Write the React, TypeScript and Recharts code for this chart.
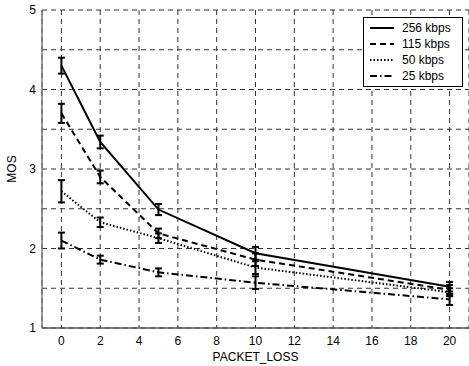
import React from 'react';
import { LineChart, Line, XAxis, YAxis, CartesianGrid, ErrorBar, Legend } from 'recharts';

const packetLoss = [0, 2, 5, 10, 20];

const mos256 = [4.3, 3.34, 2.49, 1.94, 1.52];
const err256 = [0.1, 0.08, 0.07, 0.08, 0.06];
const mos115 = [3.7, 2.9, 2.19, 1.86, 1.48];
const err115 = [0.12, 0.08, 0.06, 0.08, 0.06];
const mos50 = [2.72, 2.33, 2.13, 1.76, 1.45];
const err50 = [0.14, 0.06, 0.06, 0.08, 0.05];
const mos25 = [2.1, 1.86, 1.7, 1.57, 1.36];
const err25 = [0.1, 0.05, 0.05, 0.08, 0.07];

const xTicks = [0, 2, 4, 6, 8, 10, 12, 14, 16, 18, 20];
const yTicks = [1, 1.5, 2, 2.5, 3, 3.5, 4, 4.5, 5];

const series = [
    { key: 's256', err: 'e256', name: '256 kbps', dash: undefined as string | undefined },
    { key: 's115', err: 'e115', name: '115 kbps', dash: '6 4' },
    { key: 's50', err: 'e50', name: '50 kbps', dash: '1.5 2' },
    { key: 's25', err: 'e25', name: '25 kbps', dash: '7 3 1.5 3' },
];

const data = packetLoss.map((x, i) => ({
    x,
    s256: mos256[i], e256: err256[i],
    s115: mos115[i], e115: err115[i],
    s50: mos50[i], e50: err50[i],
    s25: mos25[i], e25: err25[i],
}));

const font = '"Liberation Sans", Arial, sans-serif';

function LegendBox() {
    return (
        <div style={{ border: '1.5px solid #000', background: '#fff', padding: '2px 6px 2px 6px', width: 86 }}>
            {series.map((s) => (
                <div key={s.key} style={{ display: 'flex', alignItems: 'center', height: 16 }}>
                    <svg width={24} height={6} style={{ marginRight: 8 }}>
                        <line x1={0} y1={3} x2={24} y2={3} stroke="#000" strokeWidth={2} strokeDasharray={s.dash} />
                    </svg>
                    <span style={{ fontSize: 12, color: '#000', fontFamily: font }}>{s.name}</span>
                </div>
            ))}
        </div>
    );
}

export default function App() {
    return (
        <div style={{ position: 'absolute', left: 0, top: 0, background: '#fff' }}>
            <LineChart width={469} height={366} data={data} margin={{ top: 10, right: 0, left: 0, bottom: 0 }}>
                <CartesianGrid stroke="#333" strokeDasharray="5 4" />
                <XAxis
                    dataKey="x"
                    type="number"
                    domain={[-1, 21]}
                    ticks={xTicks}
                    tickLine={false}
                    axisLine={{ stroke: '#555', strokeWidth: 1.5 }}
                    tick={{ fill: '#000', fontSize: 12, fontFamily: font }}
                    height={38}
                    label={{ value: 'PACKET_LOSS', position: 'insideBottom', offset: 5, fill: '#000', fontSize: 12, fontFamily: font }}
                />
                <YAxis
                    type="number"
                    domain={[1, 5]}
                    ticks={yTicks}
                    interval={0}
                    tickFormatter={(v: number) => (Number.isInteger(v) ? String(v) : '')}
                    tickLine={false}
                    tickSize={4}
                    axisLine={{ stroke: '#777', strokeWidth: 1.5 }}
                    tick={{ fill: '#000', fontSize: 12, fontFamily: font }}
                    width={42}
                    label={{ value: 'MOS', angle: -90, position: 'insideLeft', offset: 12, fill: '#000', fontSize: 12, fontFamily: font, style: { textAnchor: 'middle' } }}
                />
                <Legend
                    layout="vertical"
                    align="center"
                    verticalAlign="middle"
                    content={() => <LegendBox />}
                    wrapperStyle={{ position: 'absolute', left: 363, top: 17, width: 100 }}
                />
                {series.map((s) => (
                    <Line
                        key={s.key}
                        dataKey={s.key}
                        name={s.name}
                        type="linear"
                        stroke="#000"
                        strokeWidth={2}
                        strokeDasharray={s.dash}
                        dot={false}
                        activeDot={false}
                        isAnimationActive={false}
                    >
                        <ErrorBar dataKey={s.err} width={3.5} stroke="#000" strokeWidth={2} direction="y" />
                    </Line>
                ))}
            </LineChart>
        </div>
    );
}
